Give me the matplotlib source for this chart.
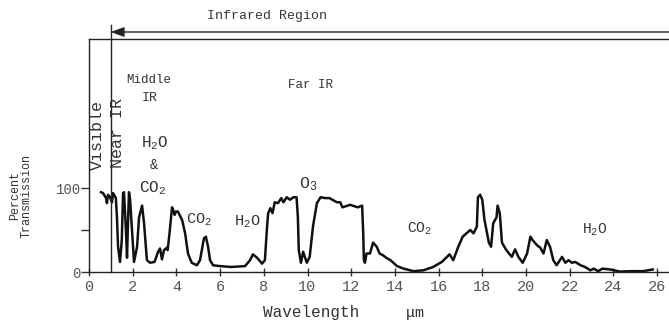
import matplotlib
matplotlib.use("Agg")
import matplotlib.pyplot as plt

plt.rcParams['font.family'] = ['Liberation Mono', 'DejaVu Sans Mono']
plt.rcParams['mathtext.fontset'] = 'custom'
plt.rcParams['mathtext.rm'] = 'Liberation Mono'
plt.rcParams['mathtext.it'] = 'Liberation Mono'

# ---- data ----
wavelength = [0.55, 0.64, 0.78, 0.82, 0.87, 0.96, 1.05, 1.10, 1.23, 1.28, 1.33, 1.42, 1.50, 1.56, 1.60,
              1.69, 1.74, 1.78, 1.83, 1.88, 1.97, 2.06, 2.20, 2.29, 2.43, 2.52, 2.65, 2.80, 3.00, 3.16,
              3.25, 3.34, 3.43, 3.57, 3.60, 3.70, 3.80, 3.85, 3.92, 3.98, 4.07, 4.26, 4.40, 4.53, 4.70,
              4.94, 5.08, 5.26, 5.35, 5.45, 5.54, 5.68, 6.0, 6.5, 7.14, 7.37, 7.50, 7.69, 7.92, 8.05,
              8.15, 8.20, 8.30, 8.40, 8.50, 8.65, 8.80, 8.90, 9.05, 9.20, 9.35, 9.50, 9.56, 9.60, 9.70,
              9.80, 9.97, 10.10, 10.25, 10.43, 10.60, 10.80, 11.00, 11.35, 11.50, 11.60, 11.95, 12.30, 12.50, 12.55,
              12.58, 12.63, 12.70, 12.86, 13.00, 13.17, 13.30, 13.45, 13.60, 13.80, 14.10, 14.40, 14.85, 15.30, 15.75,
              16.15, 16.50, 16.67, 16.90, 17.10, 17.45, 17.60, 17.75, 17.80, 17.90, 18.00, 18.10, 18.30, 18.40, 18.50,
              18.65, 18.70, 18.80, 18.90, 19.10, 19.35, 19.50, 19.65, 19.85, 20.05, 20.20, 20.30, 20.50, 20.65, 20.80,
              20.95, 21.10, 21.25, 21.40, 21.65, 21.80, 21.95, 22.10, 22.25, 22.50, 22.70, 22.95, 23.10, 23.30, 23.50,
              23.85, 24.30, 24.75, 25.35, 25.80]
transmission = [95, 94, 88, 82, 92, 89, 83, 94, 88, 65, 30, 12, 38, 94, 95,
                50, 17, 55, 95, 86, 50, 12, 30, 65, 79, 58, 14, 11, 12, 24,
                28, 15, 26, 29, 26, 50, 77, 74, 68, 72, 72, 62, 46, 22, 11,
                8, 14, 40, 42, 30, 14, 8, 7, 6, 7, 14, 21, 17, 10, 14,
                54, 70, 76, 70, 83, 82, 88, 83, 89, 86, 89, 89, 65, 26, 11,
                24, 11, 18, 54, 82, 89, 88, 88, 83, 83, 77, 80, 77, 79, 46,
                14, 11, 22, 22, 35, 30, 22, 20, 17, 14, 7, 4, 1, 2, 6,
                12, 21, 14, 30, 42, 50, 46, 54, 89, 92, 86, 62, 35, 30, 58,
                65, 79, 70, 35, 26, 18, 27, 18, 11, 22, 42, 38, 32, 29, 22,
                38, 30, 14, 8, 18, 11, 14, 11, 12, 8, 6, 2, 4, 1, 4,
                3, 0.5, 1, 1, 3]

x_ticks = list(range(0, 27, 2))
y_ticks = [0, 50, 100]
y_tick_labels = ['0', '', '100']

TXT = '#333333'

fig = plt.figure(figsize=(6.69, 3.24), dpi=100)
ax = fig.add_axes([89 / 669, 1 - 272 / 324, 1 - 89 / 669, (272 - 39) / 324])
ax.set_xlim(0, 580 / 21.85)
ax.set_ylim(0, (272 - 39) / 0.84)

ax.plot(wavelength, transmission, color='#111111', lw=1.8, solid_joinstyle='round')

for s in ['right']:
    ax.spines[s].set_visible(False)
for s in ['left', 'top', 'bottom']:
    ax.spines[s].set_linewidth(1.0)
    ax.spines[s].set_color('#222222')

ax.set_xticks(x_ticks)
ax.set_xticklabels([str(t) for t in x_ticks], fontsize=11, color='#555555')
ax.set_yticks(y_ticks)
ax.set_yticklabels(y_tick_labels, fontsize=10, color='#555555')
ax.tick_params(axis='x', direction='inout', length=6, width=1, pad=3, color='#333333')
ax.tick_params(axis='y', direction='out', length=6, width=1, pad=0, color='#333333')

# Visible / Near IR boundary line and infrared arrow
ax.plot([1, 1], [0, (272 - 25) / 0.84], color='#222222', lw=1.0, clip_on=False)
ax.annotate('', xy=(1, (272 - 32) / 0.84), xytext=(27.5, (272 - 32) / 0.84),
            arrowprops=dict(arrowstyle='-|>,head_length=0.8,head_width=0.3', color='#222222', lw=1.0,
                            shrinkA=0, shrinkB=0),
            annotation_clip=False)

fig.text(267 / 669, 1 - 16 / 324, 'Infrared Region', ha='center', va='center', fontsize=9.5, color=TXT)

def dtext(px, py, s, size, **kw):
    ax.text((px - 89) / 21.85, (272 - py) / 0.84, s, ha='center', va='center', fontsize=size,
            color=TXT, clip_on=False, **kw)

dtext(149, 80, 'Middle', 9)
dtext(150, 98, 'IR', 9.5)
dtext(310, 85, 'Far IR', 9)
dtext(97, 135, 'Visible', 12, rotation=90)
dtext(117, 133, 'Near IR', 12, rotation=90)
dtext(155, 143, r'H$_2$O', 11.5)
dtext(154, 165, '&', 10)
dtext(153, 188, r'CO$_2$', 11.5)
dtext(199, 220, r'CO$_2$', 11)
dtext(247, 222, r'H$_2$O', 11)
dtext(308, 184, r'O$_3$', 12)
dtext(420, 229, r'CO$_2$', 10.5)
dtext(595, 230, r'H$_2$O', 10.5)

fig.text(311 / 669, 1 - 312 / 324, 'Wavelength', ha='center', va='center', fontsize=11.5, color=TXT)
fig.text(415 / 669, 1 - 314 / 324, r'$\mu$m', ha='center', va='center', fontsize=11, color=TXT)
fig.text(21 / 669, 1 - 196 / 324, 'Percent\nTransmission', ha='center', va='center', rotation=90,
         fontsize=8.5, color=TXT, linespacing=1.0)

fig.savefig('out.png', dpi=100, facecolor='white')
